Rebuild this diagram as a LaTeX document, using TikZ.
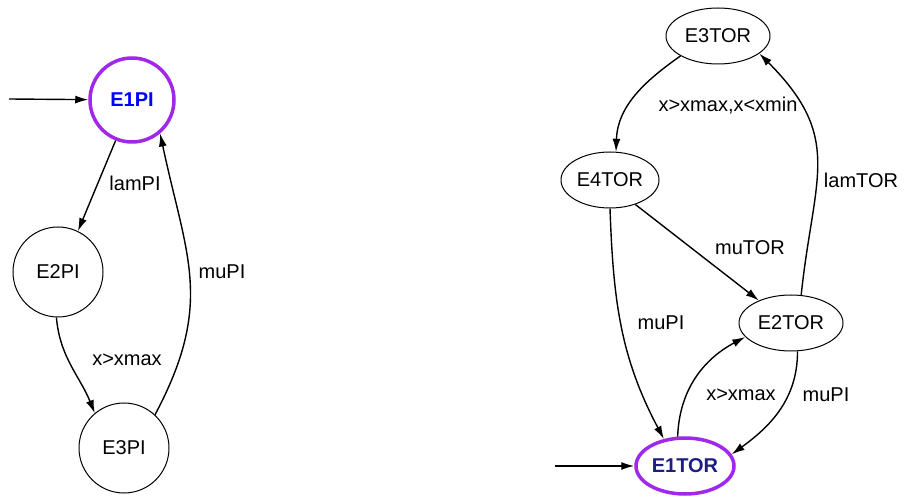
\documentclass[tikz,border=0pt]{standalone}
\usepackage{fontspec}
\setmainfont{Liberation Sans}
\usetikzlibrary{shapes.geometric,arrows.meta}
\definecolor{initpurple}{RGB}{160,40,235}
\definecolor{initnavy}{RGB}{30,30,130}

\begin{document}
\begin{tikzpicture}
        [
            x = 1pt, y = 1pt,
            every node/.style  = {font=\fontsize{20}{24}\selectfont},
            state/.style       = {shape=circle, draw, line width=1pt, minimum size=90pt, inner sep=0pt},
            statetor/.style    = {shape=ellipse, draw, line width=1pt, minimum width=104pt, minimum height=56pt, inner sep=0pt},
            initial/.style     = {draw=initpurple, line width=3.5pt},
            trans/.style       = {draw, line width=1.4pt, -{Latex[length=13pt,width=8pt]}},
            ]
            \useasboundingbox (0,0) rectangle (907,498);
            % left automaton
            \node [state, initial, minimum size=84pt, text=blue, font=\fontsize{20}{24}\selectfont\bfseries] (E1PI) at (132,398) {E1PI};
            \node [state] (E2PI) at (58,226) {E2PI};
            \node [state] (E3PI) at (124,50) {E3PI};
            \coordinate (startPI) at (9,399);
            \draw [trans] (startPI) -- (E1PI);
            \draw [trans] (E1PI.248) -- (E2PI.64);
            \draw [trans] (E2PI.268) to [out=-85, in=112] (E3PI.130);
            \draw [trans] (E3PI.47) to [out=62, in=-78, looseness=1.15] (E1PI.-50);
            \node (lamPI) at (135,315) {lamPI};
            \node (xmaxPI) at (127,138) {x>xmax};
            \node (muPI) at (222,226) {muPI};
            % right automaton
            \node [statetor] (E3TOR) at (718,462) {E3TOR};
            \node [statetor, minimum width=98pt] (E4TOR) at (610,318) {E4TOR};
            \node [statetor] (E2TOR) at (791,175) {E2TOR};
            \node [statetor, initial, minimum width=98pt, text=initnavy, font=\fontsize{20}{24}\selectfont\bfseries] (E1TOR) at (685,32) {E1TOR};
            \coordinate (startTOR) at (555,32);
            \draw [trans] (startTOR) -- (E1TOR);
            \draw [trans] (E3TOR.208) to [out=215, in=88] (E4TOR.78);
            \draw [trans] (E2TOR.70) to [out=84, in=-45, looseness=1.25] (E3TOR.-23);
            \draw [trans] (E4TOR.-44) -- (E2TOR.145);
            \draw [trans] (E4TOR.270) to [out=-88, in=118] (E1TOR.128);
            \draw [trans] (E1TOR.104) to [out=88, in=208] (E2TOR.197);
            \draw [trans] (E2TOR.-77) to [out=-90, in=36] (E1TOR.14);
            \node (xrange) at (728,392) {x>xmax,x<xmin};
            \node (lamTOR) at (861,318) {lamTOR};
            \node (muTOR) at (750,250) {muTOR};
            \node (muPIa) at (661,175) {muPI};
            \node (xmaxTOR) at (741,103) {x>xmax};
            \node (muPIb) at (826,103) {muPI};
        \end{tikzpicture}
\end{document}
